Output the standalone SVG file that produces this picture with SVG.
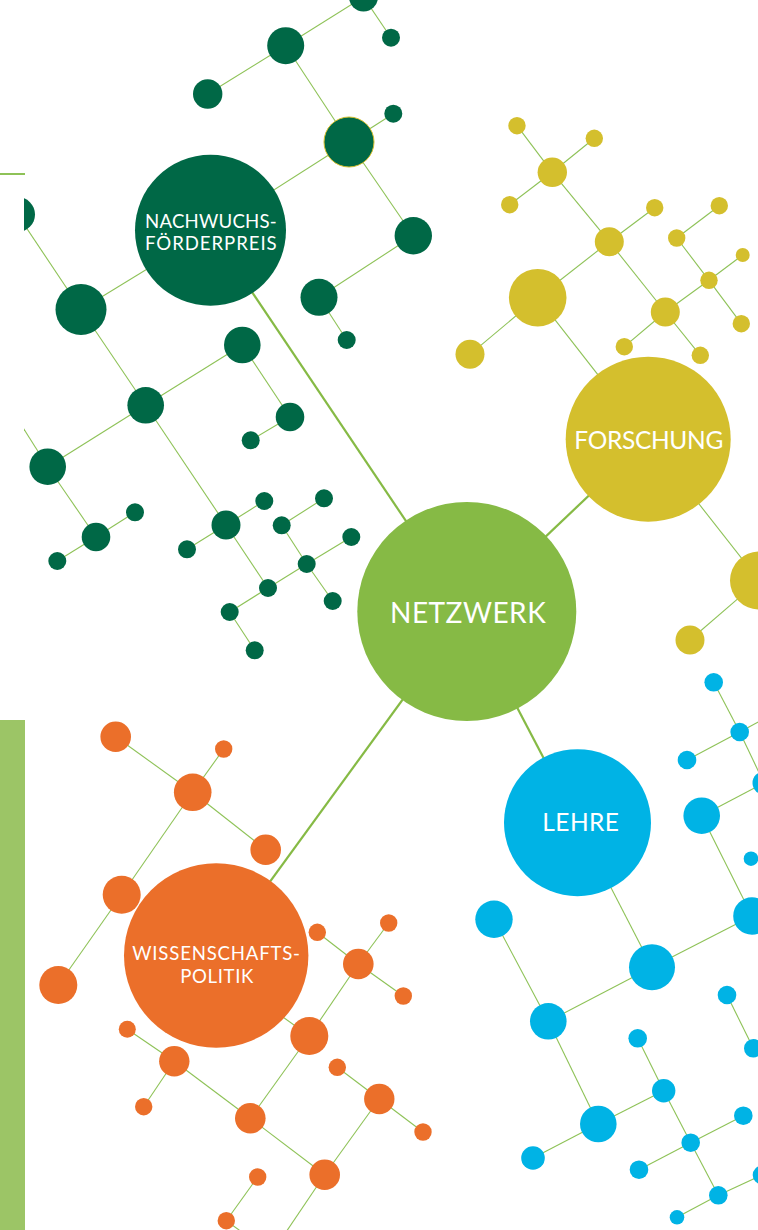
<svg xmlns="http://www.w3.org/2000/svg" width="758" height="1230" viewBox="0 0 758 1230">
<style>
.dg{fill:#006846}
.yl{fill:#d4bf2d}
.nz{fill:#86ba45}
.or{fill:#eb6f2a}
.bl{fill:#00b3e5}
.ln{stroke:#8ec257;stroke-width:1.1;fill:none}
.lk{stroke:#86ba45;stroke-width:2.2;fill:none}
.lbl{fill:#ffffff;font-family:Lato,"Liberation Sans",sans-serif;font-weight:400}
</style>
<defs>
<clipPath id="clipL"><rect x="24" y="-20" width="800" height="1300"/></clipPath>
</defs>
<rect width="758" height="1230" fill="#ffffff"/>
<rect x="0" y="720" width="25" height="510" fill="#9cc566"/>
<line x1="0" y1="174" x2="25" y2="174" stroke="#8ec257" stroke-width="2"/>
<g clip-path="url(#clipL)">
<g id="connectors">
<line class="lk" x1="210.5" y1="230.3" x2="466.8" y2="611.5"/>
<line class="lk" x1="466.8" y1="611.5" x2="648.2" y2="439.2"/>
<line class="lk" x1="466.8" y1="611.5" x2="577.5" y2="822.7"/>
<line class="lk" x1="466.8" y1="611.5" x2="216.2" y2="955.5"/>
<line class="ln" x1="363.5" y1="-3" x2="391" y2="37.7"/>
<line class="ln" x1="363.5" y1="-3" x2="285.7" y2="45.7"/>
<line class="ln" x1="285.7" y1="45.7" x2="207.7" y2="94"/>
<line class="ln" x1="285.7" y1="45.7" x2="349" y2="142"/>
<line class="ln" x1="349" y1="142" x2="393.3" y2="113.7"/>
<line class="ln" x1="349" y1="142" x2="210.5" y2="230.3"/>
<line class="ln" x1="349" y1="142" x2="413.3" y2="235.7"/>
<line class="ln" x1="413.3" y1="235.7" x2="319" y2="297.3"/>
<line class="ln" x1="319" y1="297.3" x2="346.7" y2="340"/>
<line class="ln" x1="210.5" y1="230.3" x2="81" y2="309.5"/>
<line class="ln" x1="81" y1="309.5" x2="17.5" y2="214.5"/>
<line class="ln" x1="81" y1="309.5" x2="145.7" y2="405.3"/>
<line class="ln" x1="145.7" y1="405.3" x2="242.3" y2="345"/>
<line class="ln" x1="145.7" y1="405.3" x2="47.7" y2="466.7"/>
<line class="ln" x1="145.7" y1="405.3" x2="226" y2="525"/>
<line class="ln" x1="242.3" y1="345" x2="290" y2="417"/>
<line class="ln" x1="290" y1="417" x2="250.7" y2="440.3"/>
<line class="ln" x1="47.7" y1="466.7" x2="10" y2="407"/>
<line class="ln" x1="47.7" y1="466.7" x2="96" y2="537"/>
<line class="ln" x1="96" y1="537" x2="135" y2="512.3"/>
<line class="ln" x1="96" y1="537" x2="57.3" y2="561"/>
<line class="ln" x1="226" y1="525" x2="264.3" y2="501"/>
<line class="ln" x1="226" y1="525" x2="187" y2="549.3"/>
<line class="ln" x1="226" y1="525" x2="268" y2="588"/>
<line class="ln" x1="281.7" y1="525.3" x2="324" y2="498.3"/>
<line class="ln" x1="281.7" y1="525.3" x2="306.7" y2="564"/>
<line class="ln" x1="306.7" y1="564" x2="351.3" y2="537"/>
<line class="ln" x1="306.7" y1="564" x2="332.7" y2="601"/>
<line class="ln" x1="306.7" y1="564" x2="268" y2="588"/>
<line class="ln" x1="268" y1="588" x2="229.7" y2="612"/>
<line class="ln" x1="229.7" y1="612" x2="254.7" y2="650.3"/>
<line class="ln" x1="517" y1="125.7" x2="552.3" y2="172.3"/>
<line class="ln" x1="594.3" y1="138.3" x2="552.3" y2="172.3"/>
<line class="ln" x1="552.3" y1="172.3" x2="509.7" y2="204.7"/>
<line class="ln" x1="552.3" y1="172.3" x2="609.3" y2="241.7"/>
<line class="ln" x1="609.3" y1="241.7" x2="654.7" y2="207.7"/>
<line class="ln" x1="609.3" y1="241.7" x2="537.7" y2="297.7"/>
<line class="ln" x1="609.3" y1="241.7" x2="665.3" y2="312"/>
<line class="ln" x1="537.7" y1="297.7" x2="470" y2="354.3"/>
<line class="ln" x1="537.7" y1="297.7" x2="648.2" y2="439.2"/>
<line class="ln" x1="665.3" y1="312" x2="709" y2="280.3"/>
<line class="ln" x1="665.3" y1="312" x2="624.3" y2="346.7"/>
<line class="ln" x1="665.3" y1="312" x2="700.3" y2="355.3"/>
<line class="ln" x1="709" y1="280.3" x2="742.7" y2="255"/>
<line class="ln" x1="709" y1="280.3" x2="676.7" y2="238"/>
<line class="ln" x1="709" y1="280.3" x2="741.3" y2="323.7"/>
<line class="ln" x1="676.7" y1="238" x2="719.3" y2="205.7"/>
<line class="ln" x1="648.2" y1="439.2" x2="759" y2="580.5"/>
<line class="ln" x1="759" y1="580.5" x2="690" y2="640"/>
<line class="ln" x1="115.7" y1="736.7" x2="192.7" y2="792.3"/>
<line class="ln" x1="192.7" y1="792.3" x2="223.7" y2="749"/>
<line class="ln" x1="192.7" y1="792.3" x2="265.7" y2="849.7"/>
<line class="ln" x1="192.7" y1="792.3" x2="121.7" y2="894.7"/>
<line class="ln" x1="121.7" y1="894.7" x2="58.3" y2="985"/>
<line class="ln" x1="317.3" y1="932.3" x2="358.3" y2="964"/>
<line class="ln" x1="358.3" y1="964" x2="388.7" y2="923"/>
<line class="ln" x1="358.3" y1="964" x2="403.3" y2="996"/>
<line class="ln" x1="358.3" y1="964" x2="309.3" y2="1036"/>
<line class="ln" x1="309.3" y1="1036" x2="262" y2="1002"/>
<line class="ln" x1="127.3" y1="1029.3" x2="174.3" y2="1061.3"/>
<line class="ln" x1="174.3" y1="1061.3" x2="143.7" y2="1106.7"/>
<line class="ln" x1="174.3" y1="1061.3" x2="250.3" y2="1118.3"/>
<line class="ln" x1="250.3" y1="1118.3" x2="309.3" y2="1036"/>
<line class="ln" x1="250.3" y1="1118.3" x2="324.7" y2="1174.7"/>
<line class="ln" x1="337.3" y1="1067.3" x2="379.3" y2="1099"/>
<line class="ln" x1="379.3" y1="1099" x2="423" y2="1132"/>
<line class="ln" x1="379.3" y1="1099" x2="324.7" y2="1174.7"/>
<line class="ln" x1="324.7" y1="1174.7" x2="282" y2="1238"/>
<line class="ln" x1="257.7" y1="1177" x2="226.3" y2="1220.7"/>
<line class="ln" x1="226.3" y1="1220.7" x2="250" y2="1238"/>
<line class="ln" x1="713.7" y1="682.3" x2="739.7" y2="732"/>
<line class="ln" x1="739.7" y1="732" x2="687" y2="760"/>
<line class="ln" x1="739.7" y1="732" x2="780" y2="710"/>
<line class="ln" x1="739.7" y1="732" x2="764" y2="783"/>
<line class="ln" x1="764" y1="783" x2="701.7" y2="815.7"/>
<line class="ln" x1="701.7" y1="815.7" x2="752" y2="916"/>
<line class="ln" x1="752" y1="916" x2="652" y2="967.3"/>
<line class="ln" x1="652" y1="967.3" x2="577.5" y2="822.7"/>
<line class="ln" x1="652" y1="967.3" x2="548.3" y2="1021.3"/>
<line class="ln" x1="494" y1="919.3" x2="548.3" y2="1021.3"/>
<line class="ln" x1="548.3" y1="1021.3" x2="598.3" y2="1124"/>
<line class="ln" x1="598.3" y1="1124" x2="533" y2="1158"/>
<line class="ln" x1="598.3" y1="1124" x2="663.7" y2="1090.7"/>
<line class="ln" x1="637.7" y1="1038.3" x2="663.7" y2="1090.7"/>
<line class="ln" x1="663.7" y1="1090.7" x2="690.7" y2="1142.7"/>
<line class="ln" x1="690.7" y1="1142.7" x2="743.3" y2="1115.7"/>
<line class="ln" x1="690.7" y1="1142.7" x2="639" y2="1169.7"/>
<line class="ln" x1="690.7" y1="1142.7" x2="718.3" y2="1195.3"/>
<line class="ln" x1="718.3" y1="1195.3" x2="677" y2="1217.3"/>
<line class="ln" x1="718.3" y1="1195.3" x2="762" y2="1175"/>
<line class="ln" x1="727" y1="995" x2="753.3" y2="1048.3"/>
</g>
<g id="cluster-green" class="dg">
<g id="g1"><circle cx="363.5" cy="-3" r="14.5"/></g>
<g id="g2"><circle cx="391" cy="37.7" r="9"/></g>
<g id="g3"><circle cx="285.7" cy="45.7" r="18.5"/></g>
<g id="g4"><circle cx="207.7" cy="94" r="14.7"/></g>
<g id="g5"><circle cx="393.3" cy="113.7" r="9"/></g>
<g id="g6"><circle cx="349" cy="142" r="25" stroke="#d4bf2d" stroke-width="1"/></g>
<g id="g7"><circle cx="413.3" cy="235.7" r="18.7"/></g>
<g id="g8"><circle cx="319" cy="297.3" r="18.5"/></g>
<g id="g9"><circle cx="346.7" cy="340" r="9"/></g>
<g id="g10"><circle cx="17.5" cy="214.5" r="17.5"/></g>
<g id="g11"><circle cx="81" cy="309.5" r="25.5"/></g>
<g id="g12"><circle cx="242.3" cy="345" r="18.3"/></g>
<g id="g13"><circle cx="145.7" cy="405.3" r="18.3"/></g>
<g id="g14"><circle cx="290" cy="417" r="14.3"/></g>
<g id="g15"><circle cx="250.7" cy="440.3" r="9"/></g>
<g id="g16"><circle cx="47.7" cy="466.7" r="18.3"/></g>
<g id="g17"><circle cx="96" cy="537" r="14.3"/></g>
<g id="g18"><circle cx="135" cy="512.3" r="9"/></g>
<g id="g19"><circle cx="57.3" cy="561" r="9"/></g>
<g id="g20"><circle cx="226" cy="525" r="14.5"/></g>
<g id="g21"><circle cx="264.3" cy="501" r="9"/></g>
<g id="g22"><circle cx="187" cy="549.3" r="9"/></g>
<g id="g23"><circle cx="281.7" cy="525.3" r="9"/></g>
<g id="g24"><circle cx="324" cy="498.3" r="9"/></g>
<g id="g25"><circle cx="351.3" cy="537" r="9"/></g>
<g id="g26"><circle cx="306.7" cy="564" r="9"/></g>
<g id="g27"><circle cx="268" cy="588" r="9"/></g>
<g id="g28"><circle cx="332.7" cy="601" r="9"/></g>
<g id="g29"><circle cx="229.7" cy="612" r="9"/></g>
<g id="g30"><circle cx="254.7" cy="650.3" r="9"/></g>
</g>
<g id="cluster-yellow" class="yl">
<g id="y1"><circle cx="517" cy="125.7" r="8.7"/></g>
<g id="y2"><circle cx="594.3" cy="138.3" r="8.7"/></g>
<g id="y3"><circle cx="552.3" cy="172.3" r="14.7"/></g>
<g id="y4"><circle cx="509.7" cy="204.7" r="8.7"/></g>
<g id="y5"><circle cx="654.7" cy="207.7" r="8.7"/></g>
<g id="y6"><circle cx="719.3" cy="205.7" r="8.7"/></g>
<g id="y7"><circle cx="609.3" cy="241.7" r="14.5"/></g>
<g id="y8"><circle cx="676.7" cy="238" r="8.7"/></g>
<g id="y9"><circle cx="742.7" cy="255" r="7"/></g>
<g id="y10"><circle cx="709" cy="280.3" r="8.7"/></g>
<g id="y11"><circle cx="537.7" cy="297.7" r="28.8"/></g>
<g id="y12"><circle cx="665.3" cy="312" r="14.5"/></g>
<g id="y13"><circle cx="741.3" cy="323.7" r="8.7"/></g>
<g id="y14"><circle cx="470" cy="354.3" r="14.5"/></g>
<g id="y15"><circle cx="624.3" cy="346.7" r="8.7"/></g>
<g id="y16"><circle cx="700.3" cy="355.3" r="8.7"/></g>
<g id="y17"><circle cx="759" cy="580.5" r="29"/></g>
<g id="y18"><circle cx="690" cy="640" r="14.5"/></g>
</g>
<g id="cluster-orange" class="or">
<g id="o1"><circle cx="115.7" cy="736.7" r="15.3"/></g>
<g id="o2"><circle cx="223.7" cy="749" r="8.7"/></g>
<g id="o3"><circle cx="192.7" cy="792.3" r="18.8"/></g>
<g id="o4"><circle cx="265.7" cy="849.7" r="15.3"/></g>
<g id="o5"><circle cx="121.7" cy="894.7" r="19"/></g>
<g id="o6"><circle cx="58.3" cy="985" r="19"/></g>
<g id="o7"><circle cx="317.3" cy="932.3" r="8.7"/></g>
<g id="o8"><circle cx="388.7" cy="923" r="8.7"/></g>
<g id="o9"><circle cx="358.3" cy="964" r="15.3"/></g>
<g id="o10"><circle cx="403.3" cy="996" r="8.7"/></g>
<g id="o11"><circle cx="127.3" cy="1029.3" r="8.5"/></g>
<g id="o12"><circle cx="174.3" cy="1061.3" r="15.2"/></g>
<g id="o13"><circle cx="143.7" cy="1106.7" r="8.7"/></g>
<g id="o14"><circle cx="309.3" cy="1036" r="19"/></g>
<g id="o15"><circle cx="337.3" cy="1067.3" r="8.7"/></g>
<g id="o16"><circle cx="379.3" cy="1099" r="15.2"/></g>
<g id="o17"><circle cx="423" cy="1132" r="8.7"/></g>
<g id="o18"><circle cx="250.3" cy="1118.3" r="15.3"/></g>
<g id="o19"><circle cx="324.7" cy="1174.7" r="15.3"/></g>
<g id="o20"><circle cx="257.7" cy="1177" r="8.7"/></g>
<g id="o21"><circle cx="226.3" cy="1220.7" r="8.7"/></g>
</g>
<g id="cluster-blue" class="bl">
<g id="b1"><circle cx="713.7" cy="682.3" r="9.3"/></g>
<g id="b2"><circle cx="739.7" cy="732" r="9.3"/></g>
<g id="b3"><circle cx="687" cy="760" r="9.3"/></g>
<g id="b4"><circle cx="764" cy="783" r="11.5"/></g>
<g id="b5"><circle cx="701.7" cy="815.7" r="18.3"/></g>
<g id="b6"><circle cx="751" cy="858.7" r="7.3"/></g>
<g id="b7"><circle cx="752" cy="916" r="18.8"/></g>
<g id="b8"><circle cx="494" cy="919.3" r="18.7"/></g>
<g id="b9"><circle cx="652" cy="967.3" r="23"/></g>
<g id="b10"><circle cx="727" cy="995" r="9.3"/></g>
<g id="b11"><circle cx="548.3" cy="1021.3" r="18.3"/></g>
<g id="b12"><circle cx="753.3" cy="1048.3" r="9.3"/></g>
<g id="b13"><circle cx="637.7" cy="1038.3" r="9.3"/></g>
<g id="b14"><circle cx="663.7" cy="1090.7" r="11.7"/></g>
<g id="b15"><circle cx="598.3" cy="1124" r="18.3"/></g>
<g id="b16"><circle cx="533" cy="1158" r="11.8"/></g>
<g id="b17"><circle cx="743.3" cy="1115.7" r="9.3"/></g>
<g id="b18"><circle cx="690.7" cy="1142.7" r="9.3"/></g>
<g id="b19"><circle cx="639" cy="1169.7" r="9.3"/></g>
<g id="b20"><circle cx="718.3" cy="1195.3" r="9.3"/></g>
<g id="b21"><circle cx="762" cy="1175" r="9.3"/></g>
<g id="b22"><circle cx="677" cy="1217.3" r="7.3"/></g>
</g>
<g id="nachwuchsfoerderpreis">
<circle class="dg" cx="210.5" cy="230.3" r="75.5"/>
<text class="lbl" x="145" y="227.7" font-size="18.6" textLength="131.7" lengthAdjust="spacing">NACHWUCHS-</text>
<text class="lbl" x="145" y="250" font-size="18.6" textLength="131.7" lengthAdjust="spacing">FÖRDERPREIS</text>
</g>
<g id="forschung">
<circle class="yl" cx="648.2" cy="439.2" r="82.5"/>
<text class="lbl" x="574.3" y="449.3" font-size="24.5" textLength="149" lengthAdjust="spacing">FORSCHUNG</text>
</g>
<g id="netzwerk">
<circle class="nz" cx="466.8" cy="611.5" r="109.5"/>
<text class="lbl" x="390" y="622.7" font-size="28" textLength="155.7" lengthAdjust="spacing">NETZWERK</text>
</g>
<g id="lehre">
<circle class="bl" cx="577.5" cy="822.7" r="73.5"/>
<text class="lbl" x="542.3" y="831" font-size="24.5" textLength="76.7" lengthAdjust="spacing">LEHRE</text>
</g>
<g id="wissenschaftspolitik">
<circle class="or" cx="216.2" cy="955.5" r="92.2"/>
<text class="lbl" x="132.3" y="960" font-size="18.6" textLength="167.7" lengthAdjust="spacing">WISSENSCHAFTS-</text>
<text class="lbl" x="180.3" y="982.7" font-size="18.6" textLength="73" lengthAdjust="spacing">POLITIK</text>
</g>
</g>
</svg>
